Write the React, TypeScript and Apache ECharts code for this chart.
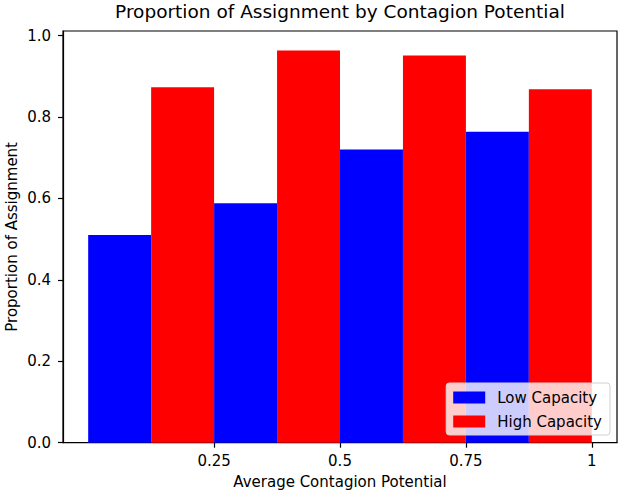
import React, { useEffect, useRef } from "react";
import * as echarts from "echarts";

const binStarts = [0, 0.25, 0.5, 0.75];
const lowCapacity = [0.51, 0.588, 0.72, 0.764];
const highCapacity = [0.873, 0.963, 0.951, 0.868];
const xTickValues = [0.25, 0.5, 0.75, 1];
const xTickLabels = ["0.25", "0.5", "0.75", "1"];
const yTickValues = [0, 0.2, 0.4, 0.6, 0.8, 1.0];
const seriesNames = ["Low Capacity", "High Capacity"];
const titleText = "Proportion of Assignment by Contagion Potential";
const xName = "Average Contagion Potential";
const yName = "Proportion of Assignment";

const BIN = 0.25;
const FONT = "DejaVu Sans";

export default function App() {
  const ref = useRef<HTMLDivElement>(null);
  useEffect(() => {
    document.body.style.margin = "0";
    const chart = echarts.init(ref.current!, null, { renderer: "svg" });
    const half = BIN / 2;
    const lowData = binStarts.map((s, i) => [s, s + half, lowCapacity[i]]);
    const highData = binStarts.map((s, i) => [s + half, s + BIN, highCapacity[i]]);
    const yMax = Math.max(...lowCapacity, ...highCapacity) * 1.05;

    const renderItem = (color: string) => (params: any, api: any) => {
      const p0 = api.coord([api.value(0), api.value(2)]);
      const p1 = api.coord([api.value(1), 0]);
      return {
        type: "rect",
        shape: { x: p0[0], y: p0[1], width: p1[0] - p0[0], height: p1[1] - p0[1] },
        style: { fill: color },
      };
    };

    const grid = { left: 63, right: 7, top: 31, bottom: 52.3 };
    const lineStyle = { color: "#000", width: 1.2 };

    chart.setOption({
      animation: false,
      textStyle: { fontFamily: FONT },
      graphic: [
        {
          type: "text",
          x: 340,
          y: 2,
          style: {
            text: titleText,
            font: `18.5px '${FONT}'`,
            fill: "#000",
            textAlign: "center",
            textVerticalAlign: "top",
          },
        },
      ],
      grid: {
        ...grid,
        containLabel: false,
        outerBoundsMode: "none",
        show: true,
        borderColor: "#000",
        borderWidth: 1.2,
      },
      xAxis: {
        type: "value",
        min: -0.05,
        max: 1.05,
        splitLine: { show: false },
        axisLine: { show: true, onZero: false, lineStyle },
        axisTick: { show: true, length: 5, customValues: xTickValues, lineStyle },
        axisLabel: {
          customValues: xTickValues,
          formatter: (v: number) => {
            const i = xTickValues.findIndex((t) => Math.abs(t - v) < 1e-9);
            return i >= 0 ? xTickLabels[i] : "";
          },
          color: "#000",
          fontSize: 15,
          fontFamily: FONT,
          margin: 11,
        },
        name: xName,
        nameLocation: "middle",
        nameGap: 32,
        nameMoveOverlap: false,
        nameTextStyle: { color: "#000", fontSize: 15, fontFamily: FONT },
      },
      yAxis: {
        type: "value",
        min: 0,
        max: yMax,
        splitLine: { show: false },
        axisLine: { show: true, onZero: false, lineStyle },
        axisTick: { show: true, length: 5, customValues: yTickValues, lineStyle },
        axisLabel: {
          customValues: yTickValues,
          formatter: (v: number) => v.toFixed(1),
          color: "#000",
          fontSize: 15,
          fontFamily: FONT,
          margin: 12,
        },
        name: yName,
        nameLocation: "middle",
        nameGap: 44,
        nameMoveOverlap: false,
        nameTextStyle: { color: "#000", fontSize: 15, fontFamily: FONT },
      },
      legend: {
        orient: "vertical",
        right: 14,
        bottom: 60,
        data: seriesNames.map((n) => ({ name: n, icon: "rect" })),
        itemWidth: 32,
        itemHeight: 12,
        itemGap: 9,
        padding: [7, 8, 6, 7],
        borderColor: "#d0d0d0",
        borderWidth: 1,
        borderRadius: 3,
        backgroundColor: "rgba(255,255,255,0.8)",
        textStyle: { color: "#000", fontSize: 15, fontFamily: FONT, lineHeight: 14, padding: [0, 0, 0, 7] },
      },
      series: [
        {
          name: seriesNames[0],
          type: "custom",
          renderItem: renderItem("#0000ff"),
          itemStyle: { color: "#0000ff" },
          encode: { x: [0, 1], y: 2 },
          data: lowData,
          z: 2,
        },
        {
          name: seriesNames[1],
          type: "custom",
          renderItem: renderItem("#ff0000"),
          itemStyle: { color: "#ff0000" },
          encode: { x: [0, 1], y: 2 },
          data: highData,
          z: 2,
        },
      ],
    });
    return () => chart.dispose();
  }, []);
  return <div ref={ref} style={{ width: 624, height: 495 }} />;
}
